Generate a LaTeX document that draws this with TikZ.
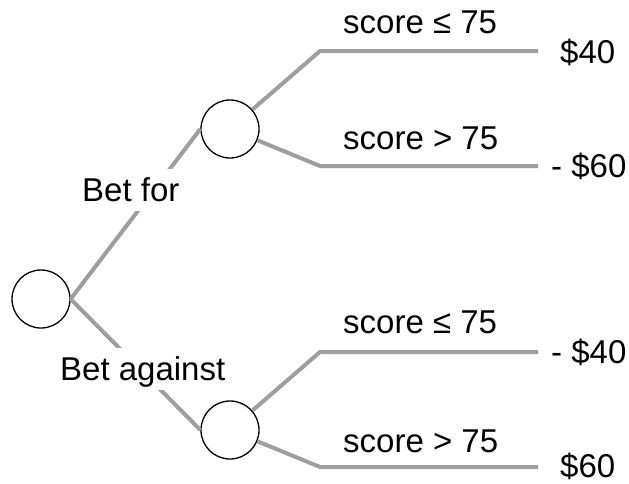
\documentclass[tikz,border=0pt]{standalone}
\usepackage{fontspec}
\setmainfont{Liberation Sans}
\definecolor{edgegray}{RGB}{158,158,158}
\begin{document}
\begin{tikzpicture}[x=1pt,y=-1pt,
  chance/.style={circle,draw=black,line width=1.3pt,minimum size=58pt,inner sep=0pt,fill=white},
  branch/.style={draw=edgegray,line width=4pt,line join=round},
  lbl/.style={anchor=base west,inner sep=0pt,font=\fontsize{33}{36}\selectfont},
  betlbl/.style={anchor=base west,fill=white,inner xsep=2pt,inner ysep=8pt,
    text height=24pt,text depth=2pt,font=\fontsize{33}{36}\selectfont}]
\useasboundingbox (0,0) rectangle (629,483);

% chance nodes
\node[chance] (r) at (41,299) {};
\node[chance] (u) at (230,129) {};
\node[chance] (d) at (230,430) {};

% bends and leaf ends of the outcome branches
\coordinate (ua) at (320,51);   \coordinate (uaend) at (538,51);
\coordinate (ub) at (320,166);  \coordinate (ubend) at (538,166);
\coordinate (da) at (320,352);  \coordinate (daend) at (538,352);
\coordinate (db) at (320,467);  \coordinate (dbend) at (538,467);

% decision branches
\draw[branch] (r.east) -- (u.west);
\draw[branch] (r.east) -- (d.west);

% outcome branches
\draw[branch] (u) -- (ua) -- (uaend);
\draw[branch] (u) -- (ub) -- (ubend);
\draw[branch] (d) -- (da) -- (daend);
\draw[branch] (d) -- (db) -- (dbend);

% decision labels
\node[betlbl] (betfor) at (80,201) {Bet for};
\node[betlbl] (betagainst) at (58,380) {Bet against};

% outcome labels
\node[lbl] (ual) at (343,33) {score ≤ 75};
\node[lbl] (ubl) at (343,149) {score > 75};
\node[lbl] (dal) at (343,333) {score ≤ 75};
\node[lbl] (dbl) at (343,452) {score > 75};

% payoffs
\node[lbl] (uav) at (560,63) {\$40};
\node[lbl] (ubv) at (551,177) {- \$60};
\node[lbl] (dav) at (551,363) {- \$40};
\node[lbl] (dbv) at (560,477) {\$60};
\end{tikzpicture}
\end{document}
